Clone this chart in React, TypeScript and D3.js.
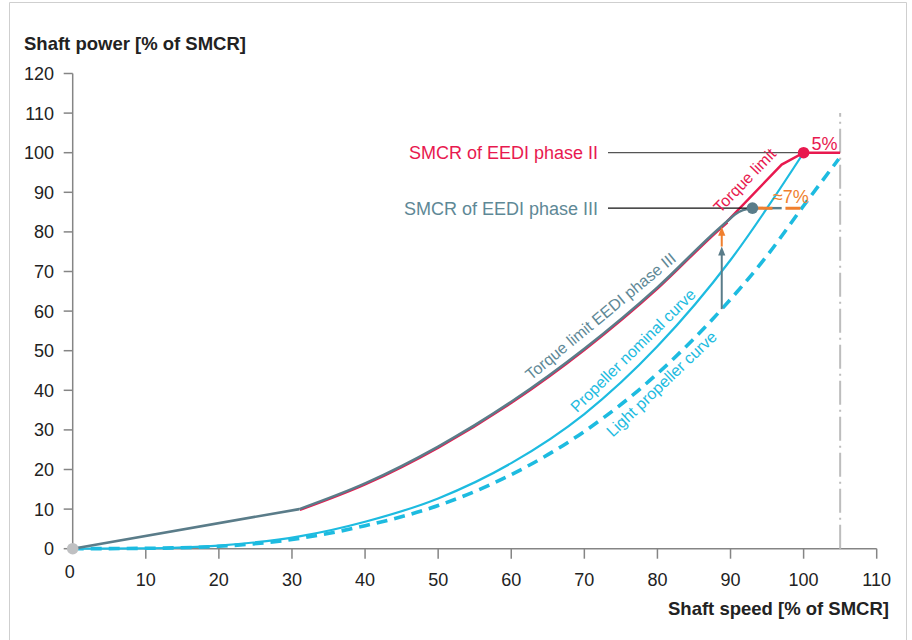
import React from "react";
import * as d3 from "d3";

const xTicks = [0, 10, 20, 30, 40, 50, 60, 70, 80, 90, 100, 110];
const yTicks = [0, 10, 20, 30, 40, 50, 60, 70, 80, 90, 100, 110, 120];

// Torque limit EEDI phase III (grey)
const torqueLowSpeed: [number, number][] = [[0, 0], [31, 10]];
const torqueCurveIII: [number, number][] = [
  [31, 10], [40, 16.5], [50, 25.8], [60, 37.1], [70, 50.5], [80, 66], [88.5, 81],
  [89.5, 82.6], [90.6, 84.4], [91.7, 85.5], [93, 86],
];
// Torque limit (EEDI phase II, pink)
const torqueCurveII: [number, number][] = [
  [31, 10], [40, 16.5], [50, 25.8], [60, 37.1], [70, 50.5], [80, 66], [88.5, 81], [89.5, 82.6],
];
const torqueLimitII: [number, number][] = [[89.5, 82.6], [97, 97], [100, 100], [105, 100]];
// Propeller curves
const propellerNominal: [number, number][] = [
  [0, 0], [10, 0.1], [20, 0.8], [31, 3.1], [40, 6.8], [50, 12.7], [60, 21.6], [70, 34],
  [80, 51.1], [90, 72.9], [100, 100],
];
const lightPropeller: [number, number][] = [
  [0, 0], [10, 0.1], [20, 0.6], [31, 2.6], [40, 5.8], [50, 10.9], [60, 18.7], [70, 29.6],
  [80, 44.2], [88.8, 60.5], [95, 74], [100, 86.6], [104.8, 98.4],
];
// Points
const originPoint: [number, number] = [0, 0];
const smcrPhaseII: [number, number] = [100, 100];
const smcrPhaseIII: [number, number] = [93, 86];
const smcrSpeedLimit = 105;
// Arrow (light propeller -> torque limit)
const arrowX = 88.8;
const arrowGrey = [60.5, 76.3];
const arrowOrange = [76.3, 81.3];
const reductionLine: [number, number] = [93, 100]; // at power 86
const greyStub: [number, number] = [93, 97];

const xAxisTitle = "Shaft speed [% of SMCR]";
const yAxisTitle = "Shaft power [% of SMCR]";

const PINK = "#e8194f";
const GREY = "#5a7c89";
const GREYTEXT = "#5e8896";
const CYAN = "#1dbbe0";
const ORANGE = "#f07f2e";
const AXIS = "#858585";
const FONT = "'Liberation Sans', Arial, Helvetica, sans-serif";

export default function App() {
  const x = d3.scaleLinear().domain([0, 110]).range([72.7, 876.7]);
  const y = d3.scaleLinear().domain([0, 120]).range([548.7, 73.5]);

  const lin = d3.line<[number, number]>().x((d) => x(d[0])).y((d) => y(d[1]));
  const smooth = d3
    .line<[number, number]>()
    .x((d) => x(d[0]))
    .y((d) => y(d[1]))
    .curve(d3.curveMonotoneX);

  const rotLabels = [
    { text: "Torque limit EEDI phase III", at: [62.7, 42.4], angle: -39.5, color: GREYTEXT },
    { text: "Propeller nominal curve", at: [69.0, 34.2], angle: -44.5, color: CYAN },
    { text: "Light propeller curve", at: [73.9, 28.0], angle: -43.5, color: CYAN },
    { text: "Torque limit", at: [88.6, 84.6], angle: -46, color: PINK },
  ];

  const arrowHead = (tip: number, color: string) => {
    const tx = x(arrowX);
    const ty = y(tip);
    return (
      <polygon
        points={`${tx},${ty} ${tx - 3.6},${ty + 9} ${tx + 3.6},${ty + 9}`}
        fill={color}
      />
    );
  };

  return (
    <svg
      width={912}
      height={640}
      style={{ position: "absolute", left: 0, top: 0, background: "#fff" }}
      fontFamily={FONT}
    >
      {/* frame */}
      <path d="M9.5,645 V2.5 H906.5 V645" fill="none" stroke="#cfcfcf" strokeWidth={1} />

      {/* axes */}
      <line x1={x(0)} x2={x(0)} y1={y(120)} y2={y(0)} stroke={AXIS} strokeWidth={1.5} />
      <line x1={x(0)} x2={x(110)} y1={y(0)} y2={y(0)} stroke={AXIS} strokeWidth={1.5} />
      {yTicks.map((t) => (
        <g key={"y" + t}>
          <line x1={x(0) - 9} x2={x(0)} y1={y(t)} y2={y(t)} stroke={AXIS} strokeWidth={1.5} />
          <text x={54} y={y(t)} dy="0.36em" textAnchor="end" fontSize={18} fill="#222">
            {t}
          </text>
        </g>
      ))}
      {xTicks.map((t) => (
        <g key={"x" + t}>
          {t > 0 && (
            <line x1={x(t)} x2={x(t)} y1={y(0)} y2={y(0) + 10} stroke={AXIS} strokeWidth={1.5} />
          )}
          <text
            x={t === 0 ? x(t) - 3 : x(t)}
            y={t === 0 ? 578 : 585.5}
            textAnchor="middle"
            fontSize={18}
            fill="#222"
          >
            {t}
          </text>
        </g>
      ))}
      <text x={24} y={50} fontSize={18.5} fontWeight="bold" fill="#222">
        {yAxisTitle}
      </text>
      <text x={889} y={615} fontSize={18.5} fontWeight="bold" fill="#222" textAnchor="end">
        {xAxisTitle}
      </text>

      {/* SMCR speed limit */}
      <line
        x1={x(smcrSpeedLimit)}
        x2={x(smcrSpeedLimit)}
        y1={y(0)}
        y2={113}
        stroke="#bdbdbd"
        strokeWidth={2}
        strokeDasharray="24,5,2,5"
      />

      {/* propeller curves */}
      <path d={smooth(lightPropeller) || ""} fill="none" stroke={CYAN} strokeWidth={3.6} strokeDasharray="11,7" />
      <path d={smooth(propellerNominal) || ""} fill="none" stroke={CYAN} strokeWidth={2.2} />

      {/* torque limit phase II (pink) */}
      <g transform="translate(0.6,0.8)">
        <path d={smooth(torqueCurveII) || ""} fill="none" stroke={PINK} strokeWidth={2.4} />
      </g>
      <path d={lin(torqueLimitII) || ""} fill="none" stroke={PINK} strokeWidth={2.4} />

      {/* torque limit phase III (grey) */}
      <path d={lin(torqueLowSpeed) || ""} fill="none" stroke={GREY} strokeWidth={2.6} />
      <path d={smooth(torqueCurveIII) || ""} fill="none" stroke={GREY} strokeWidth={2.6} />

      {/* arrows */}
      <line x1={x(arrowX)} x2={x(arrowX)} y1={y(arrowGrey[0])} y2={y(arrowGrey[1]) + 8} stroke={GREY} strokeWidth={2} />
      {arrowHead(arrowGrey[1], GREY)}
      <line x1={x(arrowX)} x2={x(arrowX)} y1={y(arrowOrange[0])} y2={y(arrowOrange[1]) + 8} stroke={ORANGE} strokeWidth={2} />
      {arrowHead(arrowOrange[1], ORANGE)}

      {/* reduction line at phase III power */}
      <line x1={x(greyStub[0])} x2={x(greyStub[1])} y1={y(smcrPhaseIII[1])} y2={y(smcrPhaseIII[1])} stroke={GREY} strokeWidth={2.4} />
      <line
        x1={x(reductionLine[0]) + 5}
        x2={x(reductionLine[1])}
        y1={y(smcrPhaseIII[1])}
        y2={y(smcrPhaseIII[1])}
        stroke={ORANGE}
        strokeWidth={3}
        strokeDasharray="15,13"
      />

      {/* leader lines */}
      <line x1={608} x2={x(smcrPhaseII[0])} y1={y(smcrPhaseII[1])} y2={y(smcrPhaseII[1])} stroke="#555" strokeWidth={1.3} />
      <line x1={608} x2={x(smcrPhaseIII[0])} y1={y(smcrPhaseIII[1])} y2={y(smcrPhaseIII[1])} stroke="#111" strokeWidth={1.2} />
      <text x={598} y={y(smcrPhaseII[1])} dy="0.36em" textAnchor="end" fontSize={18} fill={PINK}>
        SMCR of EEDI phase II
      </text>
      <text x={598} y={y(smcrPhaseIII[1])} dy="0.36em" textAnchor="end" fontSize={18} fill={GREYTEXT}>
        SMCR of EEDI phase III
      </text>

      {/* points */}
      <circle cx={x(originPoint[0])} cy={y(originPoint[1])} r={5.8} fill="#bfc0c2" />
      <circle cx={x(smcrPhaseIII[0])} cy={y(smcrPhaseIII[1])} r={5.8} fill={GREY} />
      <circle cx={x(smcrPhaseII[0])} cy={y(smcrPhaseII[1])} r={5.8} fill={PINK} />

      {/* percentage labels */}
      <text x={x(100) + 8} y={y(100) - 3} fontSize={18} fill={PINK}>
        5%
      </text>
      <text x={x(95.8)} y={y(86) - 5} fontSize={18} fill={ORANGE}>
        ≈7%
      </text>

      {/* rotated curve labels */}
      {rotLabels.map((l) => (
        <text
          key={l.text}
          transform={`translate(${x(l.at[0])},${y(l.at[1])}) rotate(${l.angle})`}
          fontSize={16}
          fill={l.color}
        >
          {l.text}
        </text>
      ))}
    </svg>
  );
}
